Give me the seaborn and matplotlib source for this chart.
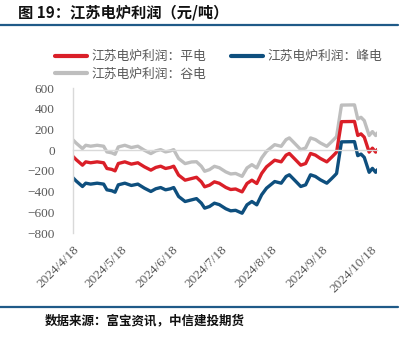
import matplotlib
matplotlib.use("Agg")
import matplotlib.pyplot as plt
from matplotlib.lines import Line2D
import pandas as pd
import seaborn as sns

# Jiangsu electric-arc-furnace profit (yuan/ton) under flat / peak / valley power prices
dates = [
    "2024-04-18", "2024-04-20", "2024-04-24", "2024-04-26", "2024-04-29",
    "2024-05-03", "2024-05-07", "2024-05-09", "2024-05-12", "2024-05-14",
    "2024-05-16", "2024-05-20", "2024-05-24", "2024-05-28", "2024-06-01",
    "2024-06-05", "2024-06-08", "2024-06-11", "2024-06-14", "2024-06-17",
    "2024-06-19", "2024-06-22", "2024-06-26", "2024-06-30", "2024-07-03",
    "2024-07-06", "2024-07-08", "2024-07-11", "2024-07-14", "2024-07-17",
    "2024-07-21", "2024-07-24", "2024-07-27", "2024-07-31", "2024-08-03",
    "2024-08-06", "2024-08-09", "2024-08-12", "2024-08-15", "2024-08-20",
    "2024-08-24", "2024-08-27", "2024-08-29", "2024-09-01", "2024-09-05",
    "2024-09-08", "2024-09-11", "2024-09-14", "2024-09-17", "2024-09-21",
    "2024-09-24", "2024-09-26", "2024-09-27", "2024-09-30", "2024-10-08",
    "2024-10-10", "2024-10-12", "2024-10-14", "2024-10-17", "2024-10-19",
    "2024-10-21", "2024-10-22",
]

flat_power = [
    -58, -90, -145, -113, -122,
    -113, -122, -177, -186, -200,
    -129, -113, -135, -122, -161,
    -193, -167, -155, -177, -167,
    -155, -241, -290, -274, -262,
    -306, -354, -338, -306, -320,
    -360, -380, -375, -403, -322,
    -290, -322, -225, -161, -97,
    -113, -48, -32, -80, -145,
    -129, -32, -48, -80, -113,
    -68, -36, -19, 275, 277,
    142, 157, 125, -19, 19,
    -19, 6,
]

peak_power = [
    -264, -296, -351, -319, -328,
    -319, -328, -383, -392, -406,
    -335, -319, -341, -328, -367,
    -399, -373, -361, -383, -373,
    -361, -447, -496, -480, -468,
    -512, -560, -544, -512, -526,
    -566, -586, -581, -609, -528,
    -496, -528, -431, -367, -303,
    -319, -254, -238, -286, -351,
    -335, -238, -254, -286, -319,
    -274, -242, -225, 80, 82,
    -53, -38, -70, -214, -176,
    -214, -189,
]

valley_power = [
    102, 70, 15, 47, 38,
    47, 38, -17, -26, -40,
    31, 47, 25, 38, -1,
    -33, -7, 5, -17, -7,
    5, -81, -130, -114, -112,
    -156, -204, -188, -156, -170,
    -210, -230, -225, -253, -172,
    -140, -172, -75, -11, 53,
    37, 102, 118, 70, 5,
    21, 118, 102, 70, 37,
    82, 114, 131, 435, 437,
    302, 317, 285, 141, 179,
    141, 166,
]

series_names = ["江苏电炉利润：平电", "江苏电炉利润：峰电", "江苏电炉利润：谷电"]
series_colors = ["#DA1F28", "#0E4F7E", "#BEBEBE"]
tick_dates = ["2024-04-18", "2024-05-18", "2024-06-18", "2024-07-18",
              "2024-08-18", "2024-09-18", "2024-10-18"]
tick_labels = ["2024/4/18", "2024/5/18", "2024/6/18", "2024/7/18",
               "2024/8/18", "2024/9/18", "2024/10/18"]

frames = []
for name, vals in zip(series_names, [flat_power, peak_power, valley_power]):
    frames.append(pd.DataFrame({"date": pd.to_datetime(dates), "value": vals, "series": name}))
df = pd.concat(frames, ignore_index=True)

sns.set_style("white")
plt.rcParams["font.family"] = ["Noto Sans CJK SC", "DejaVu Sans"]
plt.rcParams["axes.unicode_minus"] = True

W, H = 418, 338
fig = plt.figure(figsize=(W / 100, H / 100), dpi=100)
fig.patch.set_facecolor("white")
ax = fig.add_axes([72.7 / W, 105 / H, (377.3 - 72.7) / W, 145 / H])

palette = dict(zip(series_names, series_colors))
draw_order = [series_names[2], series_names[0], series_names[1]]
sns.lineplot(data=df, x="date", y="value", hue="series", hue_order=draw_order,
             palette=palette, linewidth=2.4, ax=ax, legend=False, sort=True)

ax.set_xlim(pd.Timestamp(dates[0]), pd.Timestamp(dates[-1]))
ax.set_ylim(-800, 600)
ax.set_yticks(range(-800, 601, 200))
ax.set_xlabel("")
ax.set_ylabel("")

grid_col = "#D9D9D9"
for s in ["top", "right"]:
    ax.spines[s].set_visible(False)
ax.spines["left"].set_color(grid_col)
ax.spines["left"].set_linewidth(1.0)
ax.spines["bottom"].set_position(("data", 0))
ax.spines["bottom"].set_color(grid_col)
ax.spines["bottom"].set_linewidth(1.0)

ax.set_xticks(pd.to_datetime(tick_dates))
ax.tick_params(axis="x", which="both", length=3, color=grid_col, direction="out",
               labelbottom=False)
ax.tick_params(axis="y", length=3, color=grid_col, direction="out", pad=10,
               labelsize=9.5, labelcolor="#595959",
               labelfontfamily="Liberation Serif")

for d, lab in zip(pd.to_datetime(tick_dates), tick_labels):
    ax.annotate(lab, xy=(d, 0), xycoords=("data", "axes fraction"),
                xytext=(3, -11), textcoords="offset points",
                rotation=45, rotation_mode="anchor", ha="right", va="center",
                fontsize=9.5, color="#595959", fontfamily="Liberation Serif",
                annotation_clip=False)

# legend: two columns, flat & valley in the first, peak in the second
handles = [Line2D([], [], color=series_colors[0], lw=3),
           Line2D([], [], color=series_colors[2], lw=3),
           Line2D([], [], color=series_colors[1], lw=3)]
labels = [series_names[0], series_names[2], series_names[1]]
fig.legend(handles, labels, ncol=2, loc="upper left",
           bbox_to_anchor=(49 / W, 1 - 44 / H), frameon=False, borderpad=0,
           handlelength=2.5, handletextpad=0.3, columnspacing=2.0,
           labelspacing=0.35, fontsize=9.2, labelcolor="#595959")

# header and footer
fig.text(18 / W, 1 - 13 / H, "图 19：江苏电炉利润（元/吨）", fontsize=11,
         ha="left", va="center", color="#111111", weight="bold")
rule_col = "#1F5A88"
fig.add_artist(Line2D([0, 398 / W], [1 - 24.5 / H] * 2, color=rule_col, lw=1.6))
fig.add_artist(Line2D([0, 398 / W], [1 - 306.7 / H] * 2, color=rule_col, lw=1.6))
fig.text(45 / W, 1 - 321 / H, "数据来源：富宝资讯，中信建投期货", fontsize=9,
         ha="left", va="center", color="#111111", style="italic", weight="bold")

fig.savefig("out.png", dpi=100, facecolor="white")
